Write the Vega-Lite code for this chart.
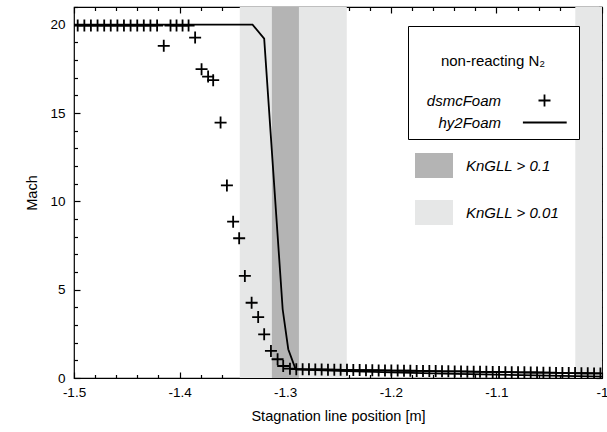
{
  "$schema": "https://vega.github.io/schema/vega-lite/v6.json",
  "width": 528,
  "height": 371,
  "autosize": {"type": "none"},
  "padding": {"left": 74, "top": 7, "right": 5, "bottom": 54},
  "background": "white",
  "config": {
    "view": {"stroke": "black", "strokeWidth": 1.2},
    "font": "Liberation Sans",
    "axis": {
      "labelFont": "Liberation Sans", "labelFontSize": 13.5, "labelColor": "black",
      "titleFont": "Liberation Sans", "titleFontSize": 14.5, "titleFontWeight": "normal", "titleColor": "black",
      "tickColor": "black", "tickWidth": 1.2, "domain": false, "grid": false, "labelFlush": false, "labelOverlap": false
    }
  },
  "datasets": {
    "bands": [
      {"band": "KnGLL > 0.01", "x1": -1.343, "x2": -1.2417},
      {"band": "KnGLL > 0.01", "x1": -1.0253, "x2": -1.0},
      {"band": "KnGLL > 0.1", "x1": -1.3126, "x2": -1.287}
    ],
    "hy2": [
      {"x": -1.5, "mach": 20.0},
      {"x": -1.3309, "mach": 20.0},
      {"x": -1.3199, "mach": 19.21},
      {"x": -1.3024, "mach": 3.89},
      {"x": -1.2971, "mach": 1.63},
      {"x": -1.2901, "mach": 0.49},
      {"x": -1.25, "mach": 0.40},
      {"x": -1.2, "mach": 0.32},
      {"x": -1.15, "mach": 0.25},
      {"x": -1.1, "mach": 0.19},
      {"x": -1.05, "mach": 0.13},
      {"x": -1.0, "mach": 0.08}
    ],
    "dsmc": [
      {"x": -1.4965, "mach": 19.95}, {"x": -1.4902, "mach": 19.95}, {"x": -1.484, "mach": 19.95},
      {"x": -1.4777, "mach": 19.95}, {"x": -1.4714, "mach": 19.95}, {"x": -1.4652, "mach": 19.95},
      {"x": -1.4589, "mach": 19.95}, {"x": -1.4527, "mach": 19.95}, {"x": -1.4464, "mach": 19.95},
      {"x": -1.4401, "mach": 19.95}, {"x": -1.4339, "mach": 19.95}, {"x": -1.4276, "mach": 19.95},
      {"x": -1.4213, "mach": 19.95}, {"x": -1.415, "mach": 18.8}, {"x": -1.4086, "mach": 19.95},
      {"x": -1.4029, "mach": 19.95}, {"x": -1.3972, "mach": 19.95}, {"x": -1.3915, "mach": 19.95},
      {"x": -1.3853, "mach": 19.27}, {"x": -1.3792, "mach": 17.48}, {"x": -1.373, "mach": 17.06},
      {"x": -1.3682, "mach": 16.86}, {"x": -1.3612, "mach": 14.46}, {"x": -1.3552, "mach": 10.9},
      {"x": -1.3493, "mach": 8.85}, {"x": -1.3436, "mach": 7.91}, {"x": -1.3382, "mach": 5.78},
      {"x": -1.3318, "mach": 4.26}, {"x": -1.3256, "mach": 3.45}, {"x": -1.3199, "mach": 2.47},
      {"x": -1.3135, "mach": 1.53}, {"x": -1.3072, "mach": 1.06}, {"x": -1.3019, "mach": 0.68},
      {"x": -1.2955, "mach": 0.53},
      {"x": -1.2895, "mach": 0.50}, {"x": -1.2835, "mach": 0.49}, {"x": -1.2775, "mach": 0.49},
      {"x": -1.2715, "mach": 0.48}, {"x": -1.2655, "mach": 0.48}, {"x": -1.2595, "mach": 0.47},
      {"x": -1.2535, "mach": 0.47}, {"x": -1.2475, "mach": 0.46}, {"x": -1.2415, "mach": 0.46},
      {"x": -1.2355, "mach": 0.45}, {"x": -1.2295, "mach": 0.45}, {"x": -1.2235, "mach": 0.44},
      {"x": -1.2175, "mach": 0.44}, {"x": -1.2115, "mach": 0.43}, {"x": -1.2055, "mach": 0.43},
      {"x": -1.1995, "mach": 0.42}, {"x": -1.1935, "mach": 0.42}, {"x": -1.1875, "mach": 0.41},
      {"x": -1.1815, "mach": 0.41}, {"x": -1.1755, "mach": 0.40}, {"x": -1.1695, "mach": 0.40},
      {"x": -1.1635, "mach": 0.39}, {"x": -1.1575, "mach": 0.39}, {"x": -1.1515, "mach": 0.38},
      {"x": -1.1455, "mach": 0.38}, {"x": -1.1395, "mach": 0.37}, {"x": -1.1335, "mach": 0.37},
      {"x": -1.1275, "mach": 0.36}, {"x": -1.1215, "mach": 0.36}, {"x": -1.1155, "mach": 0.35},
      {"x": -1.1095, "mach": 0.35}, {"x": -1.1035, "mach": 0.34}, {"x": -1.0975, "mach": 0.34},
      {"x": -1.0915, "mach": 0.33}, {"x": -1.0855, "mach": 0.33}, {"x": -1.0795, "mach": 0.32},
      {"x": -1.0735, "mach": 0.32}, {"x": -1.0675, "mach": 0.31}, {"x": -1.0615, "mach": 0.31},
      {"x": -1.0555, "mach": 0.30}, {"x": -1.0495, "mach": 0.30}, {"x": -1.0435, "mach": 0.29},
      {"x": -1.0375, "mach": 0.29}, {"x": -1.0315, "mach": 0.28}, {"x": -1.0255, "mach": 0.28},
      {"x": -1.0195, "mach": 0.27}, {"x": -1.0135, "mach": 0.27}, {"x": -1.0075, "mach": 0.26},
      {"x": -1.0015, "mach": 0.26}
    ]
  },
  "layer": [
    {
      "data": {"name": "bands"},
      "mark": {"type": "rect"},
      "encoding": {
        "x": {"field": "x1", "type": "quantitative", "scale": {"domain": [-1.5, -1.0], "nice": false, "zero": false}, "axis": null},
        "x2": {"field": "x2"},
        "fill": {
          "field": "band", "type": "nominal",
          "scale": {"domain": ["KnGLL > 0.1", "KnGLL > 0.01"], "range": ["#b4b4b4", "#e6e7e7"]},
          "legend": {
            "title": null, "orient": "none", "legendX": 341, "legendY": 139.5, "padding": 0,
            "symbolType": "M-1,-0.66L1,-0.66L1,0.66L-1,0.66Z", "symbolSize": 1444, "symbolStrokeWidth": 0,
            "labelFont": "Liberation Sans", "labelFontSize": 15, "labelFontStyle": "italic", "labelColor": "black",
            "labelOffset": 13, "rowPadding": 15
          }
        }
      }
    },
    {
      "data": {"name": "hy2"},
      "mark": {"type": "line", "color": "black", "strokeWidth": 1.8, "clip": true},
      "encoding": {
        "x": {
          "field": "x", "type": "quantitative",
          "scale": {"domain": [-1.5, -1.0], "nice": false, "zero": false},
          "axis": {
            "orient": "top", "title": null, "labels": false,
            "values": [-1.5, -1.48, -1.46, -1.44, -1.42, -1.4, -1.38, -1.36, -1.34, -1.32, -1.3, -1.28, -1.26, -1.24, -1.22, -1.2, -1.18, -1.16, -1.14, -1.12, -1.1, -1.08, -1.06, -1.04, -1.02, -1.0],
            "tickSize": {"condition": {"test": "abs(datum.value*10 - round(datum.value*10)) < 0.01", "value": -6}, "value": -3.5}
          }
        },
        "y": {
          "field": "mach", "type": "quantitative",
          "scale": {"domain": [0, 21], "nice": false},
          "axis": {
            "orient": "right", "title": null, "labels": false,
            "values": [0, 1, 2, 3, 4, 5, 6, 7, 8, 9, 10, 11, 12, 13, 14, 15, 16, 17, 18, 19, 20, 21],
            "tickSize": {"condition": {"test": "datum.value % 5 == 0", "value": -6}, "value": -3.5}
          }
        }
      }
    },
    {
      "data": {"name": "dsmc"},
      "mark": {"type": "point", "filled": false, "stroke": "black", "strokeWidth": 1.8, "clip": true, "opacity": 1},
      "encoding": {
        "x": {
          "field": "x", "type": "quantitative",
          "scale": {"domain": [-1.5, -1.0], "nice": false, "zero": false},
          "axis": {
            "orient": "bottom", "title": "Stagnation line position  [m]", "titlePadding": 8,
            "values": [-1.5, -1.48, -1.46, -1.44, -1.42, -1.4, -1.38, -1.36, -1.34, -1.32, -1.3, -1.28, -1.26, -1.24, -1.22, -1.2, -1.18, -1.16, -1.14, -1.12, -1.1, -1.08, -1.06, -1.04, -1.02, -1.0],
            "tickSize": {"condition": {"test": "abs(datum.value*10 - round(datum.value*10)) < 0.01", "value": -6}, "value": -3.5},
            "labelPadding": 13,
            "labelExpr": "abs(datum.value*10 - round(datum.value*10)) < 0.01 ? (abs(datum.value + 1) < 0.001 ? '-1' : '-' + format(abs(datum.value), '.1f')) : ''"
          }
        },
        "y": {
          "field": "mach", "type": "quantitative",
          "scale": {"domain": [0, 21], "nice": false},
          "axis": {
            "orient": "left", "title": "Mach", "titlePadding": 10,
            "values": [0, 1, 2, 3, 4, 5, 6, 7, 8, 9, 10, 11, 12, 13, 14, 15, 16, 17, 18, 19, 20, 21],
            "tickSize": {"condition": {"test": "datum.value % 5 == 0", "value": -6}, "value": -3.5},
            "labelPadding": 15,
            "labelExpr": "datum.value % 5 == 0 ? format(datum.value, 'd') : ''"
          }
        },
        "shape": {
          "datum": "dsmcFoam", "type": "nominal",
          "scale": {"domain": ["dsmcFoam", "hy2Foam"], "range": ["M-1,0L1,0M0,-1L0,1", "M-3.6,0L3.7,0"]},
          "legend": {
            "title": ["", "non-reacting N₂"], "orient": "none", "legendX": 334, "legendY": 19, "padding": 8,
            "strokeColor": "black", "fillColor": "white",
            "titleFont": "Liberation Sans", "titleFontSize": 15, "titleFontWeight": "normal", "titleColor": "black",
            "titleAnchor": "middle", "titleAlign": "center", "titleLineHeight": 20, "titlePadding": 24,
            "labelFont": "Liberation Sans", "labelFontSize": 15, "labelFontStyle": "italic", "labelColor": "black",
            "labelAlign": "right", "labelOffset": -51, "symbolOffset": 121, "rowPadding": 4,
            "symbolStrokeColor": "black", "symbolStrokeWidth": 1.8, "symbolFillColor": "transparent", "symbolSize": 144
          }
        },
        "size": {"value": 144}
      }
    }
  ],
  "resolve": {"axis": {"x": "independent", "y": "independent"}}
}
